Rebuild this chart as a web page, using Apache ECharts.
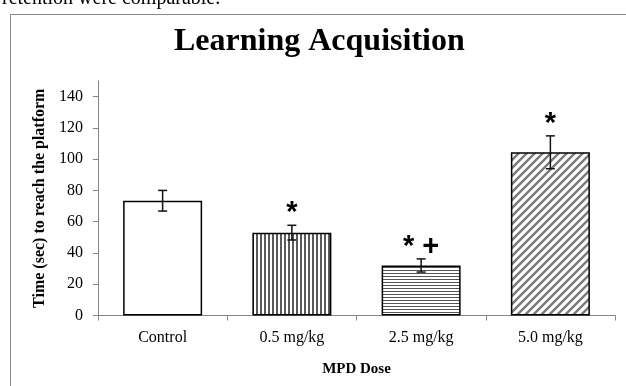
<!DOCTYPE html>
<html>
<head>
<meta charset="utf-8">
<script src="https://cdn.jsdelivr.net/npm/echarts@6/dist/echarts.min.js"></script>
<style>
html,body{margin:0;padding:0;background:#fff;}
#chart{width:626px;height:386px;}
</style>
</head>
<body>
<div id="chart"></div>
<script>
const categories = ['Control', '0.5 mg/kg', '2.5 mg/kg', '5.0 mg/kg'];
const means = [73.4, 53, 32, 104.4];
const errors = [6.6, 4.7, 4.2, 10.5];
const annotations = ['', '*', '* +', '*'];
const yTicks = [0, 20, 40, 60, 80, 100, 120, 140];
const patternTypes = ['none', 'vertical', 'horizontal', 'diagonal'];

function makePattern(type) {
  const c = document.createElement('canvas');
  const ctx = c.getContext('2d');
  if (type === 'vertical') {
    c.width = 4; c.height = 4;
    ctx.fillStyle = '#fff'; ctx.fillRect(0, 0, 4, 4);
    ctx.fillStyle = '#5a5a5a'; ctx.fillRect(0, 0, 2, 4);
  } else if (type === 'horizontal') {
    c.width = 3; c.height = 3;
    ctx.fillStyle = '#fff'; ctx.fillRect(0, 0, 3, 3);
    ctx.fillStyle = '#555'; ctx.fillRect(0, 0, 3, 1);
  } else if (type === 'diagonal') {
    const s = 8;
    c.width = s; c.height = s;
    ctx.fillStyle = '#fff'; ctx.fillRect(0, 0, s, s);
    ctx.strokeStyle = '#7a7a7a'; ctx.lineWidth = 2.4;
    ctx.beginPath();
    ctx.moveTo(-2, s + 2); ctx.lineTo(s + 2, -2);
    ctx.moveTo(-2, 2); ctx.lineTo(2, -2);
    ctx.moveTo(s - 2, s + 2); ctx.lineTo(s + 2, s - 2);
    ctx.stroke();
  } else {
    return '#fff';
  }
  return { image: c, repeat: 'repeat' };
}

const barData = means.map((v, i) => ({
  value: v,
  itemStyle: { color: makePattern(patternTypes[i]) }
}));

const errData = means.map((v, i) => [i, v, errors[i]]);

const chart = echarts.init(document.getElementById('chart'), null, { renderer: 'canvas' });

chart.setOption({
  animation: false,
  backgroundColor: '#fff',
  graphic: [
    { type: 'rect', shape: { x: 10.5, y: 14.5, width: 700, height: 500 }, style: { fill: 'none', stroke: '#8a8a8a', lineWidth: 1 }, z: -1 },
    { type: 'text', left: 2, top: -11, style: { text: 'retention were comparable.', font: '20px "Liberation Serif"', fill: '#000' } },
    { type: 'text', left: 174, top: 26, style: { text: 'Learning Acquisition', font: 'bold 32px "Liberation Serif"', fill: '#000' } }
  ],
  grid: { left: 98, right: 11, top: 81, bottom: 70.5 },
  xAxis: {
    type: 'category',
    data: categories,
    name: 'MPD Dose',
    nameLocation: 'middle',
    nameGap: 46,
    nameTextStyle: { fontFamily: 'Liberation Serif', fontWeight: 'bold', fontSize: 15, color: '#000' },
    axisLine: { lineStyle: { color: '#868686', width: 1 } },
    axisTick: { show: true, length: 5, lineStyle: { color: '#868686' } },
    axisLabel: { fontFamily: 'Liberation Serif', fontSize: 16, color: '#000', margin: 14 }
  },
  yAxis: {
    type: 'value',
    min: 0, max: 150, interval: 10,
    name: 'Time (sec) to reach the platform',
    nameLocation: 'middle',
    nameGap: 46,
    nameTextStyle: { fontFamily: 'Liberation Serif', fontWeight: 'bold', fontSize: 16, color: '#000' },
    splitLine: { show: false },
    axisLine: { show: true, lineStyle: { color: '#868686', width: 1 } },
    axisTick: { show: true, length: 5, customValues: yTicks, lineStyle: { color: '#868686' } },
    axisLabel: { customValues: yTicks, fontFamily: 'Liberation Serif', fontSize: 16, color: '#000', margin: 15 }
  },
  series: [
    {
      type: 'bar',
      data: barData,
      barWidth: 79,
      itemStyle: { borderColor: '#000', borderWidth: 1.5 },
      z: 2
    },
    {
      type: 'custom',
      data: errData,
      z: 5,
      renderItem: function (params, api) {
        const i = api.value(0), m = api.value(1), e = api.value(2);
        const top = api.coord([i, m + e]);
        const bot = api.coord([i, m - e]);
        const x = top[0];
        const hw = 4.5;
        const ls = { stroke: '#111', lineWidth: 1.5 };
        const children = [
          { type: 'line', shape: { x1: x, y1: top[1], x2: x, y2: bot[1] }, style: ls },
          { type: 'line', shape: { x1: x - hw, y1: top[1], x2: x + hw, y2: top[1] }, style: ls },
          { type: 'line', shape: { x1: x - hw, y1: bot[1], x2: x + hw, y2: bot[1] }, style: ls }
        ];
        const ann = annotations[params.dataIndex];
        if (ann) {
          children.push({
            type: 'text',
            style: { text: ann, x: x, y: top[1] - 12, align: 'center', verticalAlign: 'middle', font: 'bold 29px "Liberation Sans"', fill: '#000' }
          });
        }
        return { type: 'group', children: children };
      }
    }
  ]
});
</script>
</body>
</html>
